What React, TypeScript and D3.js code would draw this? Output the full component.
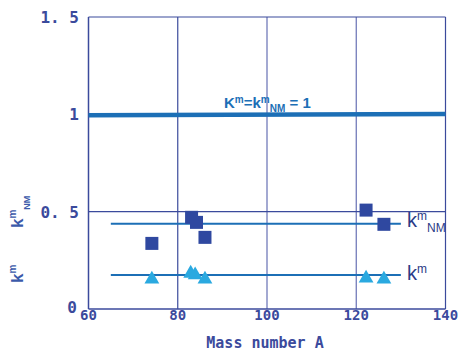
import React from 'react'
import * as d3 from 'd3'

// mass numbers and ratios
const massNM = [74.2, 83.1, 84.2, 86.1, 122.2, 126.2]
const kNM = [0.337, 0.471, 0.445, 0.368, 0.508, 0.435]
const massM = [74.2, 82.9, 83.9, 86.1, 122.2, 126.2]
const kM = [0.158, 0.188, 0.18, 0.158, 0.163, 0.158]
const fitRange = [65, 130]
const fitNM = 0.438
const fitM = 0.175
const xTicks = [60, 80, 100, 120, 140]
const yTicks = [0, 0.5, 1, 1.5]
const yTickLabels = ['0', '0. 5', '1', '1. 5']

const W = 460
const H = 353

const App = () => {
  const x = d3.scaleLinear().domain([60, 140]).range([88.5, 445.5])
  const y = d3.scaleLinear().domain([0, 1.5]).range([309, 17])

  const axisColor = '#3b4a9c'
  const gridColor = '#6670b4'
  const lineColor = '#1c6fb6'
  const sq = 13
  const tri = d3.symbol().type(d3.symbolTriangle).size(95)

  const line = d3.line<number>().x(d => x(d[0])).y(d => y(d[1]))

  return (
    <svg width={W} height={H} style={{ position: 'absolute', left: 0, top: 0, background: '#fff' }}>
      {/* vertical grid */}
      {xTicks.slice(1).map(t => (
        <line key={t} x1={x(t)} x2={x(t)} y1={y(1.5)} y2={y(0)}
          stroke={t === 80 || t === 140 ? axisColor : gridColor} strokeWidth={1.2} />
      ))}
      {/* horizontal grid at 0.5 and top border */}
      <line x1={x(60)} x2={x(140)} y1={y(0.5)} y2={y(0.5)} stroke={axisColor} strokeWidth={1.2} />
      <line x1={x(60)} x2={x(140)} y1={y(1.5)} y2={y(1.5)} stroke={axisColor} strokeWidth={1.2} />
      {/* axes */}
      <line x1={x(60)} x2={x(60)} y1={y(1.5)} y2={y(0)} stroke={axisColor} strokeWidth={1.5} />
      <line x1={x(60)} x2={x(140)} y1={y(0)} y2={y(0)} stroke={axisColor} strokeWidth={1.5} />

      {/* K = 1 line */}
      <path d={line([[60, 0.995], [140, 1.002]] as any) || ''} stroke={lineColor} strokeWidth={4.5} fill="none" />
      <text x={224} y={108} fill={lineColor} fontFamily="Liberation Sans, Arial, sans-serif" fontWeight="bold" fontSize={15}>
        K<tspan fontSize={10} dy={-5}>m</tspan>
        <tspan dy={5}>=k</tspan>
        <tspan fontSize={10} dy={-5}>m</tspan>
        <tspan fontSize={10} dy={9}>NM</tspan>
        <tspan dy={-4}> = 1</tspan>
      </text>

      {/* fitted lines */}
      <path d={line([[fitRange[0], fitNM], [fitRange[1], fitNM]] as any) || ''} stroke={lineColor} strokeWidth={2} fill="none" />
      <path d={line([[fitRange[0], fitM], [fitRange[1], fitM]] as any) || ''} stroke={lineColor} strokeWidth={2} fill="none" />

      {/* squares */}
      {massNM.map((m, i) => (
        <rect key={'s' + i} x={x(m) - sq / 2} y={y(kNM[i]) - sq / 2} width={sq} height={sq} fill="#2f48a0" />
      ))}
      {/* triangles */}
      {massM.map((m, i) => (
        <path key={'t' + i} d={tri() || ''} transform={`translate(${x(m)},${y(kM[i]) + 1})`} fill="#2aa9e0" />
      ))}

      {/* series labels */}
      <text x={407} y={227} fill="#2a3a86" fontFamily="Liberation Sans, Arial, sans-serif" fontSize={20}>
        k<tspan fontSize={12} dy={-7}>m</tspan>
        <tspan fontSize={12} dy={12}>NM</tspan>
      </text>
      <text x={407} y={280} fill="#2a3a86" fontFamily="Liberation Sans, Arial, sans-serif" fontSize={20}>
        k<tspan fontSize={12} dy={-7}>m</tspan>
      </text>

      {/* y tick labels */}
      {yTicks.map((t, i) => (
        <text key={t} x={t === 0 ? 77 : 79} y={y(t) + (t === 0 ? 4 : 6)} textAnchor="end" fill={axisColor}
          fontFamily="DejaVu Sans Mono, monospace" fontWeight="bold" fontSize={16}>
          {yTickLabels[i]}
        </text>
      ))}
      {/* x tick labels */}
      {xTicks.map(t => (
        <text key={t} x={x(t)} y={y(0) + 11} textAnchor="middle" fill={axisColor}
          fontFamily="DejaVu Sans Mono, monospace" fontWeight="bold" fontSize={14}>
          {t}
        </text>
      ))}
      <text x={265} y={348} textAnchor="middle" fill={axisColor}
        fontFamily="DejaVu Sans Mono, monospace" fontWeight="bold" fontSize={15}>
        Mass number A
      </text>

      {/* y axis title */}
      <text transform="translate(23,283) rotate(-90)" fill="#3b5aaa"
        fontFamily="Liberation Sans, Arial, sans-serif" fontWeight="bold" fontSize={17}>
        k<tspan fontSize={10} dy={-7}>m</tspan>
      </text>
      <text transform="translate(23,228) rotate(-90)" fill="#3b5aaa"
        fontFamily="Liberation Sans, Arial, sans-serif" fontWeight="bold" fontSize={17}>
        k<tspan fontSize={10} dy={-7}>m</tspan>
        <tspan fontSize={9} dy={14}>NM</tspan>
      </text>
    </svg>
  )
}

export default App
